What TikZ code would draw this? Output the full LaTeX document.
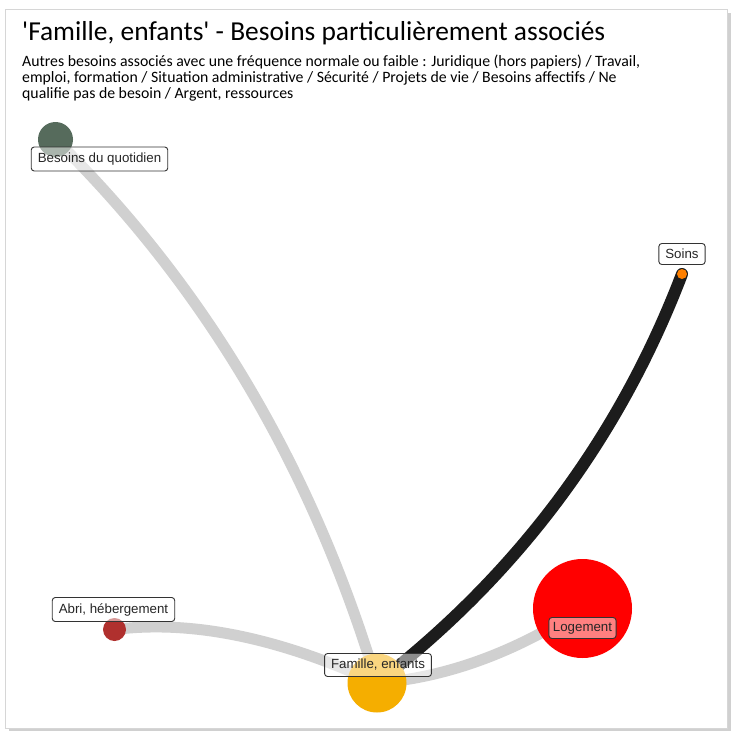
\documentclass[tikz,border=0pt]{standalone}
\usepackage{fontspec}
\setmainfont{Carlito}
\newfontfamily\labfont{Liberation Sans}
\definecolor{cardline}{HTML}{D6D6D6}
\definecolor{shadowgray}{HTML}{B0B0B0}
\definecolor{linkgray}{HTML}{D0D0D0}
\definecolor{linkdark}{HTML}{1C1C1C}
\definecolor{famyellow}{HTML}{F5AE00}
\definecolor{quotgreen}{HTML}{566B5C}
\definecolor{abrired}{HTML}{B0302E}
\definecolor{soinsorange}{HTML}{FF8000}
\definecolor{logred}{HTML}{FF0000}
\definecolor{labline}{HTML}{333333}
\tikzset{
  weaklink/.style={draw=linkgray, line width=11pt, line cap=round},
  stronglink/.style={draw=linkdark, line width=12pt, line cap=round},
  bubble/.style={circle, inner sep=0pt, draw=none},
  tag/.style={draw=labline, line width=0.9pt, rounded corners=3pt, fill=white,
    fill opacity=0.5, text opacity=1, font=\labfont\fontsize{13.3}{15}\selectfont,
    inner xsep=6.5pt, inner ysep=0pt, minimum height=22pt, text=black!85},
}
\begin{document}
\begin{tikzpicture}[x=1pt,y=-1pt]
\useasboundingbox (0,0) rectangle (734,731);
% card with its drop shadow
\fill[shadowgray!60] (9,13) rectangle (731,731);
\fill[white, draw=cardline, line width=0.8pt] (5,9) rectangle (727,728);

% title and note
\node[anchor=base west, inner sep=0pt, font=\fontsize{27.4}{30}\selectfont] (title) at (22,40)
  {\textquotesingle Famille, enfants\textquotesingle\ - Besoins particulièrement associés};
\node[anchor=base west, inner sep=0pt, align=left, font=\fontsize{15.8}{16}\selectfont] (note) at (22,98)
  {Autres besoins associés avec une fréquence normale ou faible : Juridique (hors papiers) / Travail,\\
   emploi, formation / Situation administrative / Sécurité / Projets de vie / Besoins affectifs / Ne\\
   qualifie pas de besoin / Argent, ressources};

% bubble centres
\coordinate (fam) at (377,683);
\coordinate (quo) at (55.5,139.5);
\coordinate (soi) at (682,274);
\coordinate (abr) at (114.5,629.5);
\coordinate (log) at (582.5,608.5);

% links
\draw[weaklink] (quo) .. controls (205.2,286.5) and (312.3,467.7) .. (fam);
\draw[weaklink] (abr) .. controls (191.5,619.8) and (279,637.7) .. (fam);
\draw[weaklink] (log) .. controls (514.2,652.8) and (445.7,677.7) .. (fam);
\draw[stronglink] (soi) .. controls (619.3,438) and (517.7,574.3) .. (fam);

\node[bubble, fill=famyellow, minimum size=59pt] (famille) at (fam) {};
\node[bubble, fill=quotgreen, minimum size=35pt] (quotidien) at (quo) {};
\node[bubble, fill=soinsorange, minimum size=10pt] (soins) at (soi) {};
\node[bubble, fill=abrired, minimum size=23pt] (abri) at (abr) {};
\node[bubble, fill=logred, minimum size=99pt] (logement) at (log) {};

% labels
\node[tag, minimum height=24pt] (quotidientag) at (99.5,159) {Besoins du quotidien};
\node[tag, minimum height=21pt] (soinstag) at (682,254) {Soins};
\node[tag, minimum height=24pt] (abritag) at (113.5,609.5) {Abri, hébergement};
\node[tag, minimum height=23pt] (familletag) at (378,665) {Famille, enfants};
\node[tag, minimum height=21pt, inner xsep=4pt] (logementtag) at (582.5,628) {Logement};
\end{tikzpicture}
\end{document}
